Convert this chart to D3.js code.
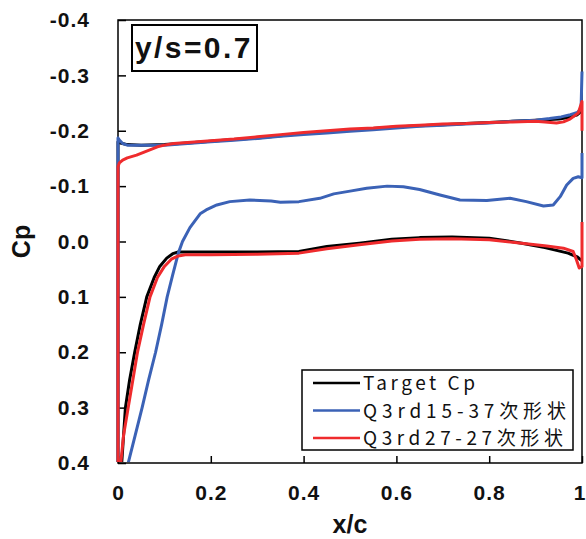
<!DOCTYPE html>
<html>
<head>
<meta charset="utf-8">
<script src="https://cdn.jsdelivr.net/npm/d3@7"></script>
<style>
  body { margin: 0; background: #fff; }
  svg { display: block; }
</style>
</head>
<body>
<div id="chart-area"></div>
<script>
// Cp distributions, [x/c, Cp]; upper surface from TE to LE, then lower surface LE to TE
var targetCp = [
  [1.0, -0.236], [0.99, -0.229], [0.97, -0.224], [0.95, -0.221], [0.9, -0.219],
  [0.85, -0.217], [0.8, -0.215], [0.75, -0.213], [0.7, -0.211], [0.65, -0.209],
  [0.6, -0.207], [0.55, -0.204], [0.5, -0.201], [0.45, -0.198], [0.4, -0.195],
  [0.35, -0.191], [0.3, -0.187], [0.25, -0.184], [0.2, -0.181], [0.15, -0.178],
  [0.1, -0.175], [0.05, -0.174], [0.02, -0.175], [0.005, -0.178], [0, -0.18],
  [0, 1.0],
  [0.003, 0.55], [0.008, 0.4], [0.016, 0.3], [0.025, 0.25], [0.036, 0.2],
  [0.048, 0.15], [0.062, 0.1], [0.078, 0.065], [0.09, 0.045], [0.105, 0.03],
  [0.118, 0.022], [0.13, 0.019], [0.2, 0.019], [0.3, 0.019], [0.39, 0.018],
  [0.45, 0.009], [0.52, 0.003], [0.59, -0.004], [0.65, -0.007], [0.72, -0.008],
  [0.8, -0.006], [0.87, 0.003], [0.92, 0.011], [0.97, 0.021], [0.99, 0.028], [1.0, 0.035]
];

var q3rd15 = [
  [1.0, -0.307], [0.998, -0.24], [0.99, -0.233], [0.975, -0.229], [0.955, -0.225],
  [0.93, -0.222], [0.9, -0.219], [0.85, -0.217], [0.8, -0.214], [0.75, -0.212],
  [0.7, -0.21], [0.65, -0.208], [0.6, -0.205], [0.55, -0.202], [0.5, -0.199],
  [0.45, -0.196], [0.4, -0.193], [0.35, -0.19], [0.3, -0.186], [0.25, -0.183],
  [0.2, -0.18], [0.15, -0.177], [0.1, -0.174], [0.05, -0.174], [0.02, -0.174],
  [0.01, -0.177], [0.003, -0.183], [0, -0.187],
  [0, 1.0],
  [0.005, 0.9], [0.022, 0.4], [0.037, 0.35], [0.052, 0.3], [0.066, 0.25], [0.081, 0.2],
  [0.094, 0.15], [0.106, 0.1], [0.118, 0.06], [0.13, 0.021], [0.139, 0.0],
  [0.155, -0.025], [0.177, -0.05], [0.19, -0.057], [0.213, -0.066], [0.241, -0.072],
  [0.284, -0.075], [0.33, -0.073], [0.35, -0.071], [0.39, -0.072], [0.435, -0.078],
  [0.465, -0.086], [0.5, -0.091], [0.536, -0.096], [0.58, -0.1], [0.615, -0.099],
  [0.65, -0.094], [0.694, -0.084], [0.737, -0.075], [0.795, -0.074], [0.845, -0.078],
  [0.88, -0.072], [0.917, -0.064], [0.938, -0.066], [0.953, -0.081], [0.967, -0.102],
  [0.981, -0.114], [0.992, -0.117], [1.0, -0.115], [1.0, -0.16]
];

var q3rd27 = [
  [1.0, -0.2], [1.0, -0.253], [0.992, -0.232], [0.974, -0.221], [0.96, -0.216],
  [0.945, -0.214], [0.92, -0.216], [0.9, -0.217], [0.85, -0.216], [0.8, -0.215],
  [0.75, -0.213], [0.7, -0.212], [0.65, -0.21], [0.6, -0.208], [0.55, -0.205],
  [0.5, -0.203], [0.45, -0.2], [0.4, -0.197], [0.35, -0.193], [0.3, -0.189],
  [0.25, -0.185], [0.2, -0.182], [0.15, -0.179], [0.12, -0.177], [0.1, -0.174],
  [0.085, -0.171], [0.07, -0.166], [0.055, -0.161], [0.04, -0.156], [0.02, -0.151],
  [0.01, -0.147], [0.003, -0.142], [0, -0.135],
  [0, 1.0],
  [0.004, 0.6], [0.006, 0.4], [0.012, 0.35], [0.022, 0.3], [0.032, 0.25], [0.042, 0.2],
  [0.055, 0.15], [0.069, 0.1], [0.085, 0.065], [0.1, 0.045], [0.115, 0.032],
  [0.13, 0.026], [0.145, 0.024], [0.2, 0.024], [0.3, 0.023], [0.39, 0.021],
  [0.45, 0.013], [0.52, 0.006], [0.59, -0.001], [0.65, -0.004], [0.72, -0.005],
  [0.8, -0.003], [0.87, 0.003], [0.924, 0.008], [0.96, 0.012], [0.981, 0.018],
  [0.988, 0.033], [0.994, 0.048], [1.0, 0.045], [1.0, -0.035]
];

var seriesNames = ["Target Cp", "Q3rd15-37次形状", "Q3rd27-27次形状"];
var seriesColors = ["#000000", "#3b62b6", "#ef2b2d"];

var xTicks = [0, 0.2, 0.4, 0.6, 0.8, 1];
var xTickLabels = ["0", "0.2", "0.4", "0.6", "0.8", "1"];
var yTicks = [-0.4, -0.3, -0.2, -0.1, 0, 0.1, 0.2, 0.3, 0.4];
var yTickLabels = ["-0.4", "-0.3", "-0.2", "-0.1", "0.0", "0.1", "0.2", "0.3", "0.4"];

var titleText = "y/s=0.7";

var margin = {top: 20, right: 4, bottom: 76, left: 118};
var width = 586 - margin.left - margin.right;
var height = 539 - margin.top - margin.bottom;
var labelFont = "'Liberation Sans', Arial, sans-serif";

var svg = d3.select("#chart-area")
  .append("svg")
    .attr("width", 586)
    .attr("height", 539);

var g = svg.append("g")
    .attr("transform", "translate(" + margin.left + "," + margin.top + ")");

var x = d3.scaleLinear().domain([0, 1]).range([0, width]);
var y = d3.scaleLinear().domain([-0.4, 0.4]).range([0, height]);

// axes (ticks point inward)
var leftAxis = d3.axisLeft(y)
  .tickValues(yTicks)
  .tickSize(-8)
  .tickPadding(28)
  .tickFormat(function(d, i) { return yTickLabels[i]; });

var yAxisG = g.append("g").attr("class", "left axis").call(leftAxis);

var bottomAxis = d3.axisBottom(x)
  .tickValues(xTicks)
  .tickSize(-7)
  .tickPadding(22)
  .tickFormat(function(d, i) { return xTickLabels[i]; });

var xAxisG = g.append("g")
  .attr("class", "bottom axis")
  .attr("transform", "translate(0," + height + ")")
  .call(bottomAxis);

[yAxisG, xAxisG].forEach(function(ax) {
  ax.select(".domain").remove();
  ax.selectAll(".tick line").attr("stroke", "#000").attr("stroke-width", 1.5);
  ax.selectAll(".tick text")
    .attr("fill", "#111")
    .style("font-family", labelFont)
    .style("font-weight", "bold")
    .style("font-size", "21px")
    .style("letter-spacing", "1px");
});

// last x label sits at the right edge of the figure
xAxisG.selectAll(".tick text")
  .filter(function(d) { return d === 1; })
  .style("letter-spacing", "0px")
  .attr("dx", -3);

// frame
g.append("rect")
  .attr("width", width)
  .attr("height", height)
  .attr("fill", "none")
  .attr("stroke", "#000")
  .attr("stroke-width", 1.5);

// clip for the curves
svg.append("defs").append("clipPath")
  .attr("id", "plot-clip")
  .append("rect")
    .attr("x", -2)
    .attr("y", -2)
    .attr("width", width + 4)
    .attr("height", height + 1);

var line = d3.line()
  .x(function(d) { return x(d[0]); })
  .y(function(d) { return y(d[1]); });

var curves = g.append("g").attr("clip-path", "url(#plot-clip)");

[targetCp, q3rd15, q3rd27].forEach(function(data, i) {
  curves.append("path")
    .datum(data)
    .attr("fill", "none")
    .attr("stroke", seriesColors[i])
    .attr("stroke-width", 3)
    .attr("stroke-linejoin", "round")
    .attr("d", line);
});

// axis titles
svg.append("text")
  .attr("transform", "translate(30," + (margin.top + height / 2) + ") rotate(-90)")
  .attr("text-anchor", "middle")
  .style("font-family", labelFont)
  .style("font-weight", "bold")
  .style("font-size", "25px")
  .attr("fill", "#111")
  .text("Cp");

svg.append("text")
  .attr("x", margin.left + width / 2)
  .attr("y", 533)
  .attr("text-anchor", "middle")
  .style("font-family", labelFont)
  .style("font-weight", "bold")
  .style("font-size", "25px")
  .attr("fill", "#111")
  .text("x/c");

// y/s label box
g.append("rect")
  .attr("x", 14)
  .attr("y", 5)
  .attr("width", 125)
  .attr("height", 46)
  .attr("fill", "#fff")
  .attr("stroke", "#000")
  .attr("stroke-width", 2);

g.append("text")
  .attr("x", 17)
  .attr("y", 38)
  .style("font-family", labelFont)
  .style("font-weight", "bold")
  .style("font-size", "30px")
  .style("letter-spacing", "2.4px")
  .attr("fill", "#111")
  .text(titleText);

// legend
var legend = g.append("g")
  .attr("transform", "translate(" + (302 - margin.left) + "," + (370 - margin.top) + ")");

legend.append("rect")
  .attr("width", 271)
  .attr("height", 80)
  .attr("fill", "#fff")
  .attr("stroke", "#000")
  .attr("stroke-width", 1.5);

var legendWidths = [112, 203, 200];

seriesNames.forEach(function(name, i) {
  var row = legend.append("g")
    .attr("transform", "translate(0," + (13 + i * 27.5) + ")");
  row.append("line")
    .attr("x1", 11)
    .attr("x2", 58)
    .attr("stroke", seriesColors[i])
    .attr("stroke-width", 2.5);
  row.append("text")
    .attr("x", 61)
    .attr("y", 7)
    .attr("textLength", legendWidths[i])
    .attr("lengthAdjust", "spacing")
    .style("font-family", "'Noto Sans CJK JP', 'Noto Sans', sans-serif")
    .style("font-size", "19px")
    .attr("fill", "#111")
    .text(name);
});
</script>
</body>
</html>
